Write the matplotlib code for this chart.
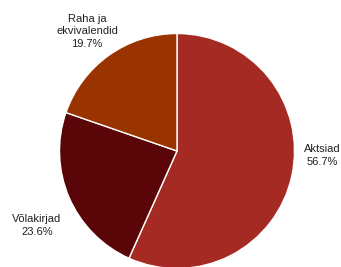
import matplotlib
matplotlib.use("Agg")
import matplotlib.pyplot as plt

categories = ["Aktsiad", "Võlakirjad", "Raha ja\nekvivalendid"]
values = [56.7, 23.6, 19.7]
colors = ["#A62A24", "#5A0507", "#993300"]

W, H = 341, 267
fig = plt.figure(figsize=(W / 100, H / 100), dpi=100)
ax = fig.add_axes([0, 0, 1, 1])
ax.set_xlim(0, W)
ax.set_ylim(0, H)
ax.set_aspect("equal")
ax.axis("off")

cx, cy, r = 177, H - 151, 117.5
ax.pie(values, colors=colors, startangle=90, counterclock=False,
       center=(cx, cy), radius=r, frame=True,
       wedgeprops=dict(edgecolor="white", linewidth=1.0))
ax.set_xlim(0, W)
ax.set_ylim(0, H)
ax.axis("off")

label_pos = [(322, H - 155.5), (37, H - 225.5), (87, H - 31.5)]
for cat, v, (x, y) in zip(categories, values, label_pos):
    ax.text(x, y, f"{cat}\n{v:.1f}%", ha="center", va="center",
            fontsize=8.0, family="Liberation Sans", color="#222222",
            linespacing=1.3)

fig.savefig("out.png", dpi=100)
